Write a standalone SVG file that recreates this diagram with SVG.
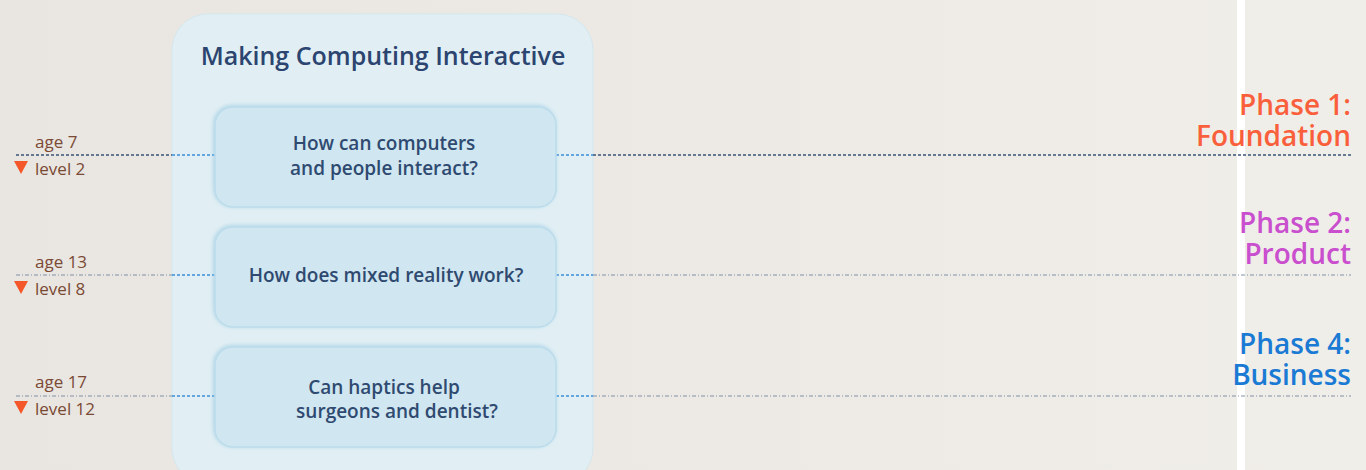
<svg xmlns="http://www.w3.org/2000/svg" width="1366" height="470" viewBox="0 0 1366 470">
<defs>
<linearGradient id="bg" x1="0" y1="0" x2="1" y2="0">
<stop offset="0" stop-color="#e9e5e0"/>
<stop offset="1" stop-color="#f0eee9"/>
</linearGradient>
<filter id="sh" x="-10%" y="-20%" width="120%" height="140%">
<feGaussianBlur in="SourceAlpha" stdDeviation="2"/>
<feOffset dx="-1" dy="-1" result="b"/>
<feFlood flood-color="#8cc3de" flood-opacity="0.6"/>
<feComposite in2="b" operator="in"/>
<feMerge><feMergeNode/><feMergeNode in="SourceGraphic"/></feMerge>
</filter>
<path id="tri" d="M0 0 H14 L7 13 Z" fill="#f4582a"/>
</defs>
<style>
.box{fill:#d0e6f0;stroke:#bcdcec;stroke-width:1.5}
.q{font-family:"Open Sans","Noto Sans",sans-serif;font-size:19px;font-weight:600;fill:#2f4a70;text-anchor:middle}
.lab{font-family:"Open Sans","Noto Sans",sans-serif;font-size:17px;fill:#7a4a35}
.ph{font-family:"Open Sans","Noto Sans",sans-serif;font-size:28px;font-weight:600;text-anchor:end}
.l1{stroke:#3a5478;stroke-width:1.5;stroke-dasharray:3 2;fill:none}
.l2{stroke:#8090a8;stroke-width:1;stroke-dasharray:4 2 1 2;fill:none}
.in{stroke:#3d8fd6;stroke-width:1.5;stroke-dasharray:3 2;fill:none}
</style>
<rect width="1366" height="470" fill="url(#bg)"/>
<rect x="1237" y="0" width="8" height="470" fill="#ffffff"/>
<g id="container">
<rect x="172" y="14" width="421" height="470" rx="36" fill="#e1eff4" stroke="#d3e7ee" stroke-width="1"/>
<text x="383" y="65" text-anchor="middle" font-family="'Open Sans','Noto Sans',sans-serif" font-size="25" font-weight="600" fill="#2b4470">Making Computing Interactive</text>
</g>
<g id="connectors">
<line class="l1" x1="16" y1="155" x2="172" y2="155"/>
<line class="in" x1="172" y1="155" x2="215" y2="155"/>
<line class="in" x1="556" y1="155" x2="593" y2="155"/>
<line class="l1" x1="593" y1="155" x2="1351" y2="155"/>
<line class="l2" x1="16" y1="275" x2="172" y2="275"/>
<line class="in" x1="172" y1="275" x2="215" y2="275" stroke-width="1"/>
<line class="in" x1="556" y1="275" x2="593" y2="275" stroke-width="1"/>
<line class="l2" x1="593" y1="275" x2="1351" y2="275"/>
<line class="l2" x1="16" y1="396" x2="172" y2="396"/>
<line class="in" x1="172" y1="396" x2="215" y2="396" stroke-width="1"/>
<line class="in" x1="556" y1="396" x2="593" y2="396" stroke-width="1"/>
<line class="l2" x1="593" y1="396" x2="1351" y2="396"/>
</g>
<g id="node1">
<rect class="box" x="215" y="107" width="341" height="100" rx="18" filter="url(#sh)"/>
<text class="q" x="384" y="150">How can computers</text>
<text class="q" x="384" y="175">and people interact?</text>
</g>
<g id="node2">
<rect class="box" x="215" y="227" width="341" height="100" rx="18" filter="url(#sh)"/>
<text class="q" x="386" y="282">How does mixed reality work?</text>
</g>
<g id="node3">
<rect class="box" x="215" y="347" width="341" height="100" rx="18" filter="url(#sh)"/>
<text class="q" x="384" y="394">Can haptics help</text>
<text class="q" x="397" y="418">surgeons and dentist?</text>
</g>
<g id="left1">
<text class="lab" x="35" y="148">age 7</text>
<use href="#tri" x="14" y="161"/>
<text class="lab" x="35" y="175">level 2</text>
</g>
<g id="left2">
<text class="lab" x="35" y="268">age 13</text>
<use href="#tri" x="14" y="281"/>
<text class="lab" x="35" y="295">level 8</text>
</g>
<g id="left3">
<text class="lab" x="35" y="388">age 17</text>
<use href="#tri" x="14" y="401"/>
<text class="lab" x="35" y="415">level 12</text>
</g>
<g id="phase1">
<text class="ph" x="1351" y="115" fill="#fa5f3c">Phase 1:</text>
<text class="ph" x="1351" y="146" fill="#fa5f3c">Foundation</text>
</g>
<g id="phase2">
<text class="ph" x="1351" y="233" fill="#c94fce">Phase 2:</text>
<text class="ph" x="1351" y="264" fill="#c94fce">Product</text>
</g>
<g id="phase4">
<text class="ph" x="1351" y="354" fill="#1a7ad4">Phase 4:</text>
<text class="ph" x="1351" y="385" fill="#1a7ad4">Business</text>
</g>
</svg>
